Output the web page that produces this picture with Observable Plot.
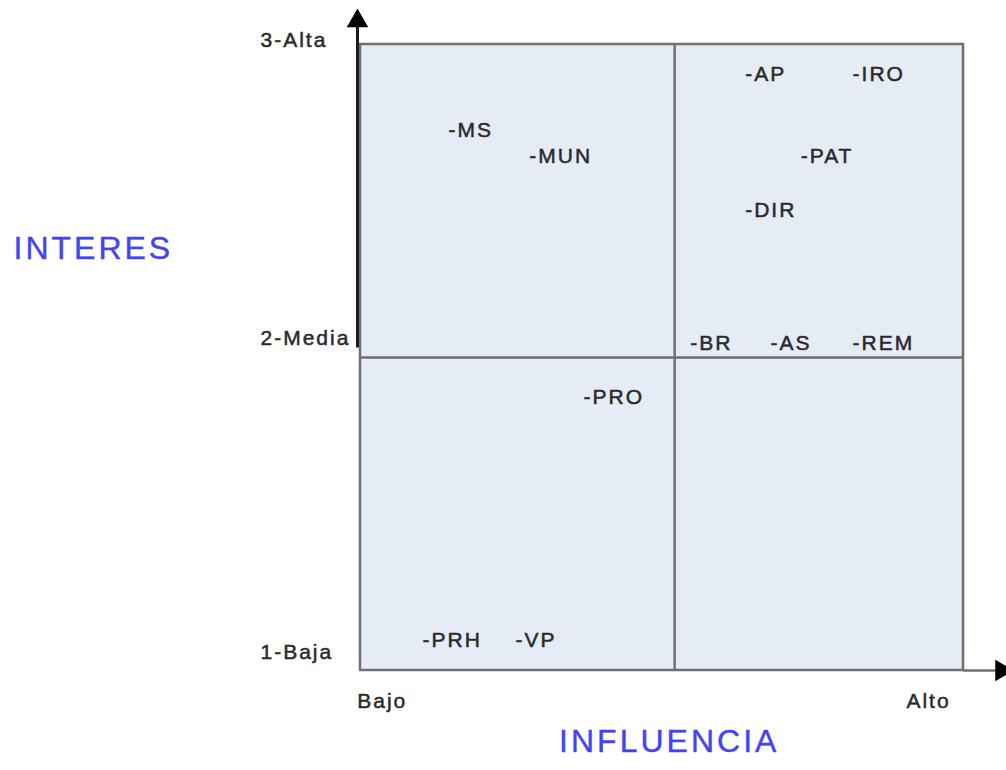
<!DOCTYPE html>
<html>
<head>
<meta charset="utf-8">
<script src="https://cdn.jsdelivr.net/npm/d3@7"></script>
<script src="https://cdn.jsdelivr.net/npm/@observablehq/plot@0.6"></script>
<style>
  html, body { margin: 0; padding: 0; background: #ffffff; }
  #chart { width: 1006px; height: 770px; }
</style>
</head>
<body>
<div id="chart"></div>
<script>
// Stakeholder labels and their positions (influence 0–10, interest 1–3)
const stakeholders = ["-MS", "-MUN", "-PRO", "-PRH", "-VP", "-AP", "-IRO", "-PAT", "-DIR", "-BR", "-AS", "-REM"];
const influencia   = [1.46, 2.80, 3.70, 1.03, 2.57, 6.38, 8.16, 7.30, 6.38, 5.47, 6.80, 8.16];
const interes      = [2.725, 2.642, 1.872, 1.096, 1.096, 2.904, 2.904, 2.642, 2.470, 2.045, 2.045, 2.045];

// Axis tick labels
const yTickLabels = ["3-Alta", "2-Media", "1-Baja"];
const yTickPos    = [3.013, 2.061, 1.058];
const xTickLabels = ["Bajo", "Alto"];
const xTickPos    = [0.36, 9.42];

// Axis titles
const yTitle = "INTERES";
const xTitle = "INFLUENCIA";

// Quadrant dividers
const xMid = 5.21;
const yMid = 2;

const points = stakeholders.map((s, i) => ({label: s, x: influencia[i], y: interes[i]}));
const yTicks = yTickLabels.map((t, i) => ({label: t, y: yTickPos[i]}));
const xTicks = xTickLabels.map((t, i) => ({label: t, x: xTickPos[i]}));

const font = "Liberation Sans, Arial, Helvetica, sans-serif";
const lineCol = "#6f6f6f";
const textCol = "#2a2a2a";
const titleCol = "#4343f0";

const chart = Plot.plot({
  width: 1006,
  height: 770,
  marginLeft: 360,
  marginRight: 43,
  marginTop: 44,
  marginBottom: 100,
  x: {domain: [0, 10], axis: null},
  y: {domain: [1, 3], axis: null},
  style: {fontFamily: font, background: "#ffffff", overflow: "visible"},
  marks: [
    // quadrant frame
    Plot.rect([{x1: 0, x2: 10, y1: 1, y2: 3}], {x1: "x1", x2: "x2", y1: "y1", y2: "y2", fill: "#e6ecf6", stroke: lineCol, strokeWidth: 2.5}),
    // dividers
    Plot.ruleX([xMid], {y1: 1, y2: 3, stroke: lineCol, strokeWidth: 2.5}),
    Plot.ruleY([yMid], {x1: 0, x2: 10, stroke: lineCol, strokeWidth: 2.5}),
    // x-axis extension and arrow head
    Plot.ruleY([1], {x1: 10, x2: 10.55, stroke: lineCol, strokeWidth: 2.5}),
    Plot.dot([{x: 10.63, y: 1}], {x: "x", y: "y", symbol: "triangle", r: 8, fill: "#000", stroke: "none", rotate: 90}),
    // y-axis arrow shaft and head
    Plot.ruleX([-0.05], {y1: 2.03, y2: 3.06, stroke: "#1a1a1a", strokeWidth: 3}),
    Plot.dot([{x: -0.05, y: 3.075}], {x: "x", y: "y", symbol: "triangle", r: 8, fill: "#000", stroke: "none"}),
    // stakeholder labels
    Plot.text(points, {x: "x", y: "y", text: "label", textAnchor: "start", fontSize: 21, fill: textCol, stroke: textCol, strokeWidth: 0.5}),
    // y tick labels
    Plot.text(yTicks, {y: "y", text: "label", frameAnchor: "left", dx: -100, textAnchor: "start", fontSize: 21, fill: textCol, stroke: textCol, strokeWidth: 0.5}),
    // x tick labels
    Plot.text(xTicks, {x: "x", text: "label", frameAnchor: "bottom", dy: 37, fontSize: 21, fill: textCol, stroke: textCol, strokeWidth: 0.5}),
    // axis titles
    Plot.text([yTitle], {y: 2.348, text: d => d, frameAnchor: "left", dx: -347, textAnchor: "start", fontSize: 32, fill: titleCol, stroke: titleCol, strokeWidth: 0.4}),
    Plot.text([xTitle], {x: 5.12, text: d => d, frameAnchor: "bottom", dy: 81, fontSize: 32, fill: titleCol, stroke: titleCol, strokeWidth: 0.4})
  ]
});

d3.select(chart).selectAll("text").attr("letter-spacing", "2px");
d3.select(chart).selectAll("text").filter(function() {
  const t = this.textContent;
  return t === yTitle || t === xTitle;
}).attr("letter-spacing", "3px");

document.getElementById("chart").appendChild(chart);
</script>
</body>
</html>
